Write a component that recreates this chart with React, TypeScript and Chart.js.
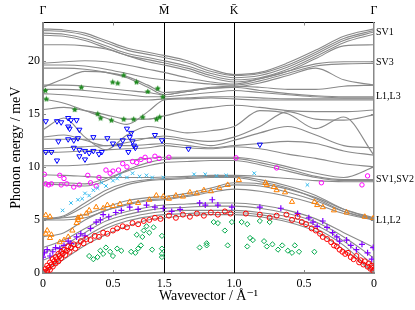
import React, { useEffect, useRef } from 'react';
import { Chart, registerables } from 'chart.js';

Chart.register(...registerables);

// ---- axes / ticks ----
const kM = 0.866;
const kK = 1.366;
const kEnd = 2.366;
const xTickValues = [0, 0.5, 0.866, 1.366, 1.866, 2.366];
const xTickLabels = ['0', '0.5', '1.5', '1.0', '0.5', '0'];
const topTickValues = [0, 0.866, 1.366, 2.366];
const topTickLabels = ['Γ', 'M\u0304', 'K\u0304', 'Γ'];
const yTickValues = [0, 5, 10, 15, 20];
const rightTickValues = [22.7, 19.8, 16.6, 8.8, 5.0];
const rightTickLabels = ['SV1', 'SV3', 'L1,L3', 'SV1,SV2', 'L1,L2'];

// ---- calculated bands (energy in meV at kGrid) ----
const kGrid = [0, 0.15, 0.3, 0.45, 0.6, 0.75, 0.866, 1.03, 1.2, 1.366, 1.55, 1.75, 1.95, 2.15, 2.366];

const sv1Bands = [
  [23.0, 22.9, 22.6, 21.9, 21.2, 20.8, 20.5, 20.0, 19.2, 18.7, 18.9, 19.8, 21.0, 22.3, 23.0],
  [22.85, 22.75, 22.4, 21.7, 21.0, 20.6, 20.3, 19.8, 19.0, 18.6, 18.8, 19.6, 20.8, 22.1, 22.85],
  [22.6, 22.5, 22.1, 21.4, 20.7, 20.3, 20.0, 19.5, 18.8, 18.4, 18.6, 19.4, 20.6, 21.9, 22.7],
  [22.4, 22.3, 21.9, 21.2, 20.5, 20.1, 19.8, 19.3, 18.6, 18.2, 18.4, 19.2, 20.4, 21.7, 22.5],
  [21.5, 21.5, 21.4, 21.1, 20.5, 19.9, 19.6, 19.1, 18.4, 18.0, 18.3, 19.0, 20.2, 21.4, 21.5],
];

const sv3Bands = [
  [19.75, 19.9, 20.0, 19.9, 19.6, 19.2, 18.9, 18.4, 18.0, 17.8, 18.3, 19.0, 19.7, 19.9, 19.9],
  [19.6, 19.6, 19.5, 19.2, 18.8, 18.4, 18.2, 18.0, 17.8, 17.7, 18.1, 18.8, 19.5, 19.7, 19.75],
  [19.3, 19.3, 19.2, 18.9, 18.4, 17.5, 16.8, 17.1, 17.4, 17.5, 17.9, 18.6, 19.3, 18.2, 17.7],
  [17.5, 18.3, 19.0, 18.9, 18.5, 17.7, 17.0, 17.2, 17.5, 17.6, 17.5, 17.3, 17.3, 17.6, 17.7],
];

const l13Bands = [
  [17.7, 17.7, 17.6, 17.4, 17.2, 17.0, 16.8, 17.1, 17.4, 17.5, 17.2, 16.9, 16.7, 16.6, 16.6],
  [17.3, 17.3, 17.2, 17.0, 16.8, 16.6, 16.6, 16.8, 17.0, 17.2, 17.0, 16.8, 16.6, 16.5, 16.5],
  [16.9, 16.8, 16.6, 16.4, 16.3, 16.3, 16.4, 16.5, 16.6, 16.6, 16.5, 16.4, 16.4, 16.4, 16.4],
  [16.4, 16.0, 15.3, 14.6, 14.0, 15.2, 16.3, 16.4, 16.5, 16.4, 16.3, 16.3, 16.3, 16.3, 16.3],
  [15.4, 15.6, 15.3, 14.9, 14.5, 14.5, 14.8, 15.3, 15.6, 15.8, 15.6, 15.3, 15.2, 15.2, 15.35],
];

const midBands = [
  [13.5, 14.6, 12.8, 11.6, 13.0, 13.8, 13.6, 13.2, 13.4, 13.8, 15.3, 15.0, 13.6, 14.7, 11.1],
  [12.8, 13.0, 12.5, 12.0, 12.3, 12.7, 12.9, 12.6, 12.4, 12.8, 13.8, 15.2, 14.5, 14.4, 14.9],
  [12.6, 12.6, 12.6, 12.6, 12.6, 12.7, 12.7, 12.4, 12.0, 12.5, 13.2, 13.8, 13.0, 12.0, 11.8],
  [11.7, 11.8, 11.9, 12.0, 12.0, 12.1, 12.2, 12.0, 11.8, 12.0, 12.2, 12.4, 12.2, 11.5, 11.1],
  [11.35, 11.4, 11.5, 11.6, 11.7, 11.8, 12.0, 11.8, 11.7, 11.9, 11.7, 11.2, 10.8, 10.3, 10.0],
];

const svBands = [
  [10.1, 10.1, 10.2, 10.4, 10.6, 10.8, 10.9, 10.9, 10.9, 10.9, 10.6, 10.0, 9.4, 9.0, 10.0],
  [8.4, 8.3, 8.2, 8.7, 9.7, 10.4, 10.7, 10.8, 10.8, 10.8, 10.4, 9.8, 9.1, 8.8, 8.8],
  [8.5, 8.5, 8.4, 8.9, 9.6, 10.1, 10.4, 10.5, 10.6, 10.6, 10.2, 9.6, 9.0, 8.7, 8.7],
  [9.25, 9.2, 9.1, 9.0, 9.0, 9.0, 9.05, 9.1, 9.2, 9.2, 9.1, 8.9, 8.7, 8.6, 8.6],
  [5.1, 5.4, 6.6, 7.8, 8.5, 8.8, 8.9, 9.0, 9.1, 9.1, 8.8, 8.2, 7.3, 6.0, 5.1],
  [5.0, 5.3, 6.3, 7.5, 8.3, 8.7, 8.8, 8.9, 9.0, 9.0, 8.6, 8.0, 7.0, 5.8, 5.0],
];

const lowBands = [
  [5.0, 5.0, 5.2, 5.9, 6.5, 6.9, 7.0, 7.3, 7.8, 8.3, 8.2, 7.6, 6.8, 5.8, 5.1],
  [5.1, 5.2, 5.5, 6.2, 6.8, 7.1, 7.2, 7.5, 8.0, 8.5, 8.4, 7.9, 7.1, 6.0, 5.2],
  [3.4, 3.8, 5.0, 5.9, 6.4, 6.8, 6.9, 7.2, 7.6, 7.9, 7.7, 7.2, 6.5, 5.6, 5.0],
  [2.4, 3.1, 4.2, 5.2, 5.8, 6.2, 6.4, 6.5, 6.6, 6.6, 6.4, 5.9, 5.1, 3.8, 2.4],
  [1.9, 2.6, 3.8, 4.9, 5.5, 5.9, 6.1, 6.2, 6.3, 6.3, 6.1, 5.6, 4.8, 3.4, 1.4],
  [1.2, 2.1, 3.4, 4.5, 5.2, 5.6, 5.8, 5.9, 5.9, 5.9, 5.7, 5.3, 4.5, 3.0, 0.7],
  [0.0, 1.7, 3.1, 4.2, 4.9, 5.3, 5.5, 5.6, 5.7, 5.7, 5.5, 5.0, 4.2, 2.6, 0.0],
  [0.0, 1.3, 2.6, 3.6, 4.4, 5.0, 5.2, 5.4, 5.5, 5.5, 5.3, 4.8, 3.9, 2.2, 0.0],
];

// ---- measured points [k, E] ----
const redPoints = [
  [0.01, 0.1], [0.02, 0.4], [0.03, 0.2], [0.03, 0.7], [0.04, 0.5], [0.05, 1.0], [0.05, 0.3], [0.06, 0.8],
  [0.07, 1.3], [0.07, 0.6], [0.08, 1.1], [0.09, 1.5], [0.09, 0.9], [0.1, 1.3], [0.11, 1.8], [0.11, 1.1],
  [0.12, 1.6], [0.13, 2.0], [0.13, 1.4], [0.14, 1.8], [0.15, 2.2], [0.16, 1.7], [0.17, 2.1], [0.18, 2.5],
  [0.19, 2.0], [0.2, 2.4], [0.22, 2.7], [0.23, 2.3], [0.25, 2.6], [0.27, 3.0], [0.29, 2.8], [0.31, 3.2],
  [0.34, 3.1], [0.37, 3.5], [0.4, 3.4], [0.43, 3.8], [0.46, 3.7], [0.5, 4.0], [0.53, 4.2], [0.57, 4.4],
  [0.6, 4.3], [0.64, 4.7], [0.68, 4.6], [0.72, 4.9], [0.76, 5.0], [0.8, 5.2], [0.84, 5.1], [0.9, 5.4],
  [0.95, 5.2], [1.0, 5.5], [1.05, 5.3], [1.1, 5.6], [1.15, 5.4], [1.2, 5.7], [1.25, 5.5], [1.3, 5.8],
  [1.34, 5.6], [1.45, 5.6], [1.55, 5.5], [1.62, 5.2], [1.67, 5.4], [1.74, 5.5], [1.78, 5.0], [1.82, 5.3],
  [1.85, 4.8], [1.88, 4.6], [1.92, 4.2], [1.95, 4.0], [1.98, 3.7], [2.0, 3.4], [2.03, 3.2], [2.06, 2.9],
  [2.08, 2.6], [2.1, 2.5], [2.12, 2.2], [2.14, 2.0], [2.16, 1.8], [2.18, 1.9], [2.2, 1.5], [2.22, 1.3],
  [2.24, 1.6], [2.26, 1.0], [2.27, 1.2], [2.29, 0.8], [2.3, 1.1], [2.32, 0.6], [2.33, 0.9], [2.34, 0.4],
  [2.35, 0.7], [2.36, 0.2], [2.36, 0.5],
];

const purplePoints = [
  [0.0, 1.5], [0.01, 1.9], [0.03, 2.2], [0.05, 1.6], [0.07, 2.0], [0.09, 2.4], [0.12, 2.3], [0.15, 2.6],
  [0.18, 3.0], [0.2, 2.8], [0.24, 3.4], [0.27, 3.7], [0.3, 3.5], [0.34, 4.2], [0.38, 4.8], [0.41, 5.0],
  [0.43, 5.5], [0.47, 5.3], [0.52, 5.7], [0.56, 5.9], [0.62, 6.2], [0.68, 6.0], [0.74, 6.4], [0.8, 6.2],
  [0.86, 6.1], [0.92, 5.8], [0.98, 6.0], [1.12, 6.6], [1.16, 6.4], [1.21, 6.9], [1.25, 6.4], [1.35, 6.2],
  [1.55, 6.2], [1.7, 6.1], [1.82, 5.6], [1.9, 5.2], [1.93, 4.8], [1.96, 4.4], [2.0, 4.9], [2.03, 4.3],
  [2.07, 3.8], [2.1, 3.4], [2.12, 3.0], [2.17, 3.1], [2.2, 2.6], [2.24, 2.2], [2.28, 2.7], [2.32, 1.9],
  [2.35, 1.3], [2.36, 2.4],
];

const orangePoints = [
  [0.02, 3.7], [0.03, 4.0], [0.05, 3.3], [0.06, 3.6], [0.12, 2.9], [0.15, 3.1], [0.18, 3.4], [0.21, 4.0],
  [0.24, 4.7], [0.25, 5.2], [0.27, 5.3], [0.31, 5.6], [0.33, 5.9], [0.38, 6.2], [0.43, 6.1], [0.46, 6.4],
  [0.5, 6.3], [0.55, 6.5], [0.62, 6.7], [0.68, 6.6], [0.76, 6.9], [0.81, 7.3], [0.02, 5.45], [0.05, 5.3],
  [0.25, 5.0], [0.86, 7.2], [0.9, 7.0], [0.95, 7.3], [1.0, 7.2], [1.05, 7.6], [1.1, 7.5], [1.15, 7.8],
  [1.2, 7.7], [1.26, 8.0], [1.32, 8.3], [1.4, 8.75], [1.59, 8.5], [1.6, 8.3], [1.65, 8.1], [1.67, 7.8],
  [1.73, 7.6], [1.78, 6.7], [1.94, 6.7], [1.96, 6.4], [2.0, 6.2], [2.08, 5.9], [2.17, 5.7], [2.3, 5.3],
  [2.36, 5.15],
];

const cyanPoints = [
  [0.14, 5.9], [0.2, 6.6], [0.25, 6.9], [0.28, 7.0], [0.3, 7.5], [0.33, 7.3], [0.36, 7.8], [0.39, 8.0],
  [0.42, 8.5], [0.45, 8.2], [0.5, 8.7], [0.53, 8.9], [0.55, 9.2], [0.6, 9.0], [0.64, 9.4], [0.69, 9.1],
  [0.74, 9.2], [0.78, 9.0], [0.86, 9.0], [1.08, 9.3], [1.16, 9.3], [1.24, 9.15], [1.31, 9.2], [1.51, 9.4],
  [1.89, 8.3],
];

const magentaPoints = [
  [0.01, 9.3], [0.02, 8.4], [0.04, 8.3], [0.06, 8.4], [0.12, 9.2], [0.15, 8.9], [0.13, 8.3], [0.17, 8.4],
  [0.22, 8.1], [0.26, 8.3], [0.32, 9.2], [0.34, 8.5], [0.38, 8.2], [0.4, 9.0], [0.45, 9.7], [0.48, 9.4],
  [0.5, 9.6], [0.54, 9.7], [0.57, 10.3], [0.6, 10.0], [0.64, 10.5], [0.67, 10.4], [0.7, 10.7], [0.73, 10.9],
  [0.76, 10.6], [0.8, 11.0], [0.83, 10.8], [0.9, 10.9], [1.38, 10.85], [1.67, 9.9], [1.99, 8.5], [2.28, 8.3],
  [2.32, 9.15],
];

const bluePoints = [
  [0.02, 14.3], [0.1, 14.3], [0.13, 14.2], [0.18, 14.6], [0.2, 14.4], [0.24, 14.4], [0.18, 13.8], [0.19, 13.6],
  [0.26, 13.5], [0.02, 11.4], [0.06, 11.4], [0.1, 10.6], [0.18, 12.6], [0.22, 12.5], [0.25, 12.7], [0.11, 12.4],
  [0.22, 11.8], [0.26, 11.6], [0.3, 11.5], [0.33, 11.3], [0.36, 11.5], [0.4, 11.2], [0.42, 11.4], [0.26, 11.0],
  [0.3, 10.7], [0.36, 12.8], [0.46, 12.7], [0.5, 12.2], [0.55, 12.0], [0.57, 12.5], [0.6, 13.6], [0.63, 13.2],
  [0.62, 12.8], [0.64, 12.4], [0.65, 12.0], [0.66, 11.8], [0.61, 11.4], [0.8, 13.0], [0.85, 12.5], [1.04, 11.7],
  [1.55, 12.1],
];

const greenUpperPoints = [
  [0.017, 17.2], [0.024, 16.4], [0.274, 17.5], [0.227, 15.4], [0.391, 15.0], [0.412, 14.6], [0.489, 14.4],
  [0.498, 18.0], [0.534, 17.9], [0.577, 18.65], [0.577, 14.5], [0.648, 14.5], [0.668, 18.0], [0.713, 14.7],
  [0.749, 17.1], [0.811, 14.5], [0.82, 17.4], [0.834, 14.7], [0.856, 16.6],
];

const greenLowerPoints = [
  [0.33, 1.6], [0.36, 1.3], [0.39, 1.5], [0.41, 2.1], [0.43, 1.8], [0.45, 2.4], [0.48, 2.0], [0.5, 1.6],
  [0.53, 2.3], [0.56, 2.1], [0.63, 2.0], [0.66, 1.9], [0.68, 2.3], [0.7, 2.6], [0.72, 4.0], [0.74, 4.4],
  [0.67, 3.6], [0.71, 3.4], [0.76, 3.8], [0.79, 4.3], [0.78, 2.2], [0.85, 3.5], [0.85, 2.3], [0.85, 1.8],
  [0.85, 1.5], [1.12, 2.4], [1.17, 2.6], [1.17, 2.8], [1.22, 4.8], [1.25, 4.7], [1.3, 4.0], [1.32, 2.6],
  [1.35, 4.8], [1.42, 4.8], [1.46, 4.6], [1.48, 3.3], [1.5, 3.1], [1.46, 2.5], [1.55, 4.9], [1.58, 3.0],
  [1.6, 2.5], [1.62, 4.8], [1.64, 2.7], [1.68, 2.2], [1.71, 2.6], [1.75, 2.1], [1.78, 1.9], [1.8, 2.6],
  [1.83, 2.0], [1.94, 2.0],
];

const FONT = "'Liberation Serif', 'DejaVu Serif', serif";

function makeStar(color: string): HTMLCanvasElement {
  const c = document.createElement('canvas');
  c.width = 7;
  c.height = 7;
  const g = c.getContext('2d')!;
  g.fillStyle = color;
  g.beginPath();
  for (let i = 0; i < 10; i++) {
    const r = i % 2 === 0 ? 3.2 : 1.6;
    const a = -Math.PI / 2 + (i * Math.PI) / 5;
    const px = 3.5 + r * Math.cos(a);
    const py = 3.7 + r * Math.sin(a);
    if (i === 0) g.moveTo(px, py);
    else g.lineTo(px, py);
  }
  g.closePath();
  g.fill();
  return c;
}

export default function App() {
  const ref = useRef<HTMLCanvasElement | null>(null);

  useEffect(() => {
    if (!ref.current) return;
    const gray = '#8a8a8a';
    const allBands = [...sv1Bands, ...sv3Bands, ...l13Bands, ...midBands, ...svBands, ...lowBands];
    const bandSets = allBands.map((vals) => ({
      data: kGrid.map((k, i) => ({ x: k, y: vals[i] })),
      showLine: true,
      borderColor: gray,
      borderWidth: 1.1,
      pointRadius: 0,
      cubicInterpolationMode: 'monotone',
      order: 10,
    }));
    const pts = (pairs: number[][]) => pairs.map(([x, y]) => ({ x, y }));
    const star = makeStar('#1f8a1f');
    const none = 'rgba(0,0,0,0)';
    const pointSets: any[] = [
      { data: pts(greenLowerPoints), pointStyle: 'rectRot', pointRadius: 2.6, pointBorderColor: '#00a84a', pointBackgroundColor: none, pointBorderWidth: 1 },
      { data: pts(redPoints), pointStyle: 'circle', pointRadius: 2.5, pointBorderColor: '#ff0000', pointBackgroundColor: none, pointBorderWidth: 1 },
      { data: pts(purplePoints), pointStyle: 'cross', pointRadius: 3, pointBorderColor: '#8000ff', pointBackgroundColor: none, pointBorderWidth: 1.2 },
      { data: pts(orangePoints), pointStyle: 'triangle', pointRadius: 3, pointBorderColor: '#ff8000', pointBackgroundColor: none, pointBorderWidth: 1 },
      { data: pts(cyanPoints), pointStyle: 'crossRot', pointRadius: 2.5, pointBorderColor: '#33bbee', pointBackgroundColor: none, pointBorderWidth: 1 },
      { data: pts(magentaPoints), pointStyle: 'circle', pointRadius: 2.2, pointBorderColor: '#ff00ff', pointBackgroundColor: none, pointBorderWidth: 1 },
      { data: pts(bluePoints), pointStyle: 'triangle', pointRotation: 180, pointRadius: 3, pointBorderColor: '#0000ff', pointBackgroundColor: none, pointBorderWidth: 1 },
      { data: pts(greenUpperPoints), pointStyle: star, pointRadius: 3, pointBorderColor: '#1f8a1f', pointBackgroundColor: '#1f8a1f' },
    ].map((d) => ({ ...d, showLine: false, order: 0 }));

    const decor = {
      id: 'decor',
      beforeDatasetsDraw(chart: any) {
        const { ctx, chartArea, scales } = chart;
        ctx.save();
        ctx.strokeStyle = '#000';
        ctx.lineWidth = 1;
        [kM, kK].forEach((k) => {
          const px = Math.round(scales.x.getPixelForValue(k)) + 0.5;
          ctx.beginPath();
          ctx.moveTo(px, chartArea.top);
          ctx.lineTo(px, chartArea.bottom);
          ctx.stroke();
        });
        ctx.restore();
      },
      afterDraw(chart: any) {
        const { ctx, chartArea, scales } = chart;
        ctx.save();
        ctx.strokeStyle = '#888';
        ctx.lineWidth = 1;
        yTickValues.slice(1).forEach((v) => {
          const py = Math.round(scales.y.getPixelForValue(v)) + 0.5;
          ctx.beginPath();
          ctx.moveTo(chartArea.left, py);
          ctx.lineTo(chartArea.left + 3, py);
          ctx.moveTo(chartArea.right, py);
          ctx.lineTo(chartArea.right - 3, py);
          ctx.stroke();
        });
        [0.5, 1.866].forEach((k) => {
          const px = Math.round(scales.x.getPixelForValue(k)) + 0.5;
          ctx.beginPath();
          ctx.moveTo(px, chartArea.bottom);
          ctx.lineTo(px, chartArea.bottom - 3);
          ctx.moveTo(px, chartArea.top);
          ctx.lineTo(px, chartArea.top + 3);
          ctx.stroke();
        });
        ctx.restore();
      },
    };

    const fixedTicks = (vals: number[]) => (s: any) => {
      s.ticks = vals.map((v) => ({ value: v }));
    };

    const chart = new Chart(ref.current, {
      type: 'scatter',
      data: { datasets: [...pointSets, ...bandSets] as any },
      options: {
        responsive: false,
        animation: false,
        layout: { padding: 0 },
        plugins: { legend: { display: false }, tooltip: { enabled: false } },
        scales: {
          x: {
            type: 'linear',
            position: 'bottom',
            min: 0,
            max: kEnd,
            afterBuildTicks: fixedTicks(xTickValues),
            afterFit: (s: any) => { s.height = 37; },
            grid: { display: false, drawTicks: false },
            border: { display: true, color: '#888', width: 2 },
            ticks: {
              autoSkip: false,
              maxRotation: 0,
              padding: 4,
              color: '#000',
              font: { family: FONT, size: 12 },
              callback: (_v: any, i: number) => xTickLabels[i],
            },
            title: {
              display: true,
              text: 'Wavevector / Å⁻¹',
              color: '#000',
              font: { family: FONT, size: 14 },
              padding: { top: 0, bottom: 5 },
            },
          },
          x2: {
            type: 'linear',
            position: 'top',
            min: 0,
            max: kEnd,
            afterBuildTicks: fixedTicks(topTickValues),
            afterFit: (s: any) => { s.height = 22.5; },
            grid: { display: false, drawTicks: false },
            border: { display: true, color: '#000', width: 1 },
            ticks: {
              autoSkip: false,
              maxRotation: 0,
              padding: 4,
              color: '#000',
              font: { family: FONT, size: 12 },
              callback: (_v: any, i: number) => topTickLabels[i],
            },
          },
          y: {
            type: 'linear',
            position: 'left',
            min: 0,
            max: 23.6,
            afterBuildTicks: fixedTicks(yTickValues),
            afterFit: (s: any) => { s.width = 43; },
            grid: { display: false, drawTicks: false },
            border: { display: true, color: '#888', width: 2 },
            ticks: {
              autoSkip: false,
              padding: 3,
              color: '#000',
              font: { family: FONT, size: 12 },
              callback: (v: any) => String(v),
            },
            title: {
              display: true,
              text: 'Phonon energy / meV',
              color: '#000',
              font: { family: FONT, size: 14 },
              padding: { top: 8, bottom: 0 },
            },
          },
          y2: {
            type: 'linear',
            position: 'right',
            min: 0,
            max: 23.6,
            afterBuildTicks: fixedTicks(rightTickValues),
            afterFit: (s: any) => { s.width = 41; },
            grid: { display: false, drawTicks: false },
            border: { display: true, color: '#888', width: 1.5 },
            ticks: {
              autoSkip: false,
              padding: 2,
              color: '#000',
              font: { family: FONT, size: 10 },
              callback: (_v: any, i: number) => rightTickLabels[i],
            },
          },
        },
      } as any,
      plugins: [decor],
    });
    return () => chart.destroy();
  }, []);

  return (
    <div style={{ position: 'absolute', left: 0, top: 0, width: 415, height: 310, background: '#fff' }}>
      <canvas ref={ref} width={415} height={310} style={{ display: 'block' }} />
    </div>
  );
}
